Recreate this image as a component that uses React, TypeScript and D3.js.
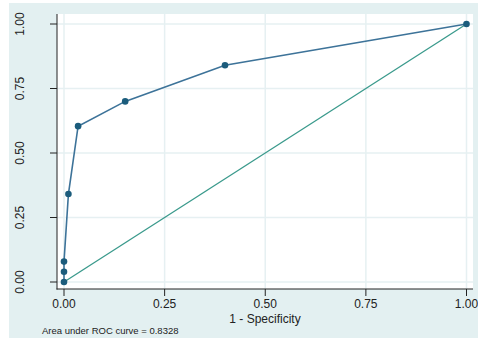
import React from "react";
import * as d3 from "d3";

// ROC points (1 - specificity, sensitivity)
const fpr = [0, 0, 0, 0.011, 0.035, 0.152, 0.4, 1];
const tpr = [0, 0.04, 0.079, 0.341, 0.604, 0.7, 0.84, 1];
const ticks = [0, 0.25, 0.5, 0.75, 1];
const aucText = "Area under ROC curve = 0.8328";

const App = () => {
  const width = 478,
    height = 338;

  const x = d3.scaleLinear().domain([0, 1]).range([64, 466.5]);
  const y = d3.scaleLinear().domain([0, 1]).range([282, 24]);

  const pts = fpr.map((f, i) => [f, tpr[i]] as [number, number]);
  const line = d3
    .line<[number, number]>()
    .x(d => x(d[0]))
    .y(d => y(d[1]));

  const font = "'Liberation Sans', Arial, sans-serif";

  return (
    <svg
      width={width}
      height={height}
      style={{ position: "absolute", left: 0, top: 0 }}
      fontFamily={font}
    >
      <rect x={0} y={0} width={width} height={height} fill="#ffffff" />
      <rect x={9} y={3} width={width - 9} height={height - 3} fill="#e3f0f1" />
      <rect x={57} y={14} width={416} height={275} fill="#ffffff" />

      {ticks.map(t => (
        <g key={"g" + t}>
          <line x1={57} x2={473} y1={y(t)} y2={y(t)} stroke="#e6f0f2" strokeWidth={1.5} />
          <line x1={x(t)} x2={x(t)} y1={14} y2={289} stroke="#e6f0f2" strokeWidth={1.5} />
        </g>
      ))}

      {/* axes */}
      <line x1={57} x2={57} y1={14} y2={289.5} stroke="#222" strokeWidth={1} />
      <line x1={56.5} x2={473} y1={289} y2={289} stroke="#222" strokeWidth={1} />

      {ticks.map(t => (
        <g key={"y" + t}>
          <line x1={50} x2={57} y1={y(t)} y2={y(t)} stroke="#222" />
          <text
            transform={`translate(24,${y(t)}) rotate(-90)`}
            textAnchor="middle"
            fontSize={12}
            fill="#222"
          >
            {d3.format(".2f")(t)}
          </text>
        </g>
      ))}
      {ticks.map(t => (
        <g key={"x" + t}>
          <line x1={x(t)} x2={x(t)} y1={289} y2={296} stroke="#222" />
          <text x={x(t)} y={308} textAnchor="middle" fontSize={12} fill="#222">
            {d3.format(".2f")(t)}
          </text>
        </g>
      ))}

      <text x={265} y={323} textAnchor="middle" fontSize={12} fill="#222">
        1 - Specificity
      </text>
      <text x={42} y={334} fontSize={9.5} fill="#222">
        {aucText}
      </text>

      {/* reference line */}
      <line x1={x(0)} y1={y(0)} x2={x(1)} y2={y(1)} stroke="#3a9a8c" strokeWidth={1.3} />

      {/* ROC curve */}
      <path d={line(pts) || ""} fill="none" stroke="#3d7399" strokeWidth={1.6} />
      {pts.map((p, i) => (
        <circle key={i} cx={x(p[0])} cy={y(p[1])} r={3.3} fill="#1b5c7c" />
      ))}
    </svg>
  );
};

export default App;
